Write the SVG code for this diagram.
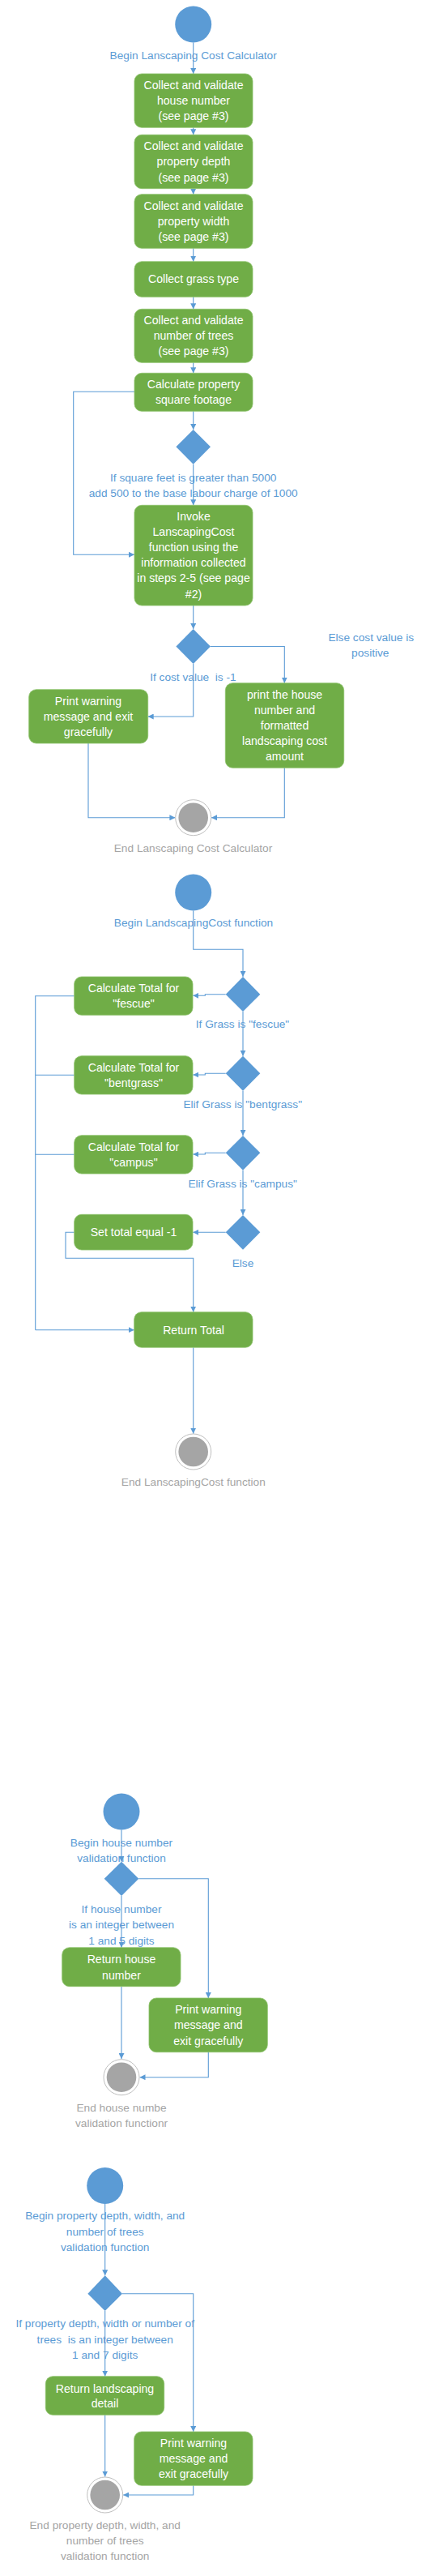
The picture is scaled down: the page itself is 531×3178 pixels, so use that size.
<svg xmlns="http://www.w3.org/2000/svg" width="531" height="3178" viewBox="0 0 531 3178">
<defs>
<style>
.bx{fill:#70ad47;stroke:#8cc26a;stroke-width:0.8}
.st{fill:#5b9bd5}
.dm{fill:#5b9bd5}
.eo{fill:#fff;stroke:#bfbfbf;stroke-width:1}
.ei{fill:#a5a5a5}
.cn{fill:none;stroke:#5b9bd5;stroke-width:1.1}
.ca{fill:none;stroke:#5b9bd5;stroke-width:1.1;marker-end:url(#ah)}
text{font-family:"Liberation Sans",Arial,sans-serif;font-size:13.7px;text-anchor:middle;dominant-baseline:central}
.t{fill:#ffffff;font-size:14.1px}
.lb{fill:#5b9bd5}
.gl{fill:#a5a5a5}
</style>
<marker id="ah" viewBox="0 0 10 10" refX="10" refY="5" markerWidth="7" markerHeight="7" markerUnits="userSpaceOnUse" orient="auto">
<path d="M0,0 L10,5 L0,10 z" fill="#5b9bd5"/>
</marker>
</defs>
<rect width="531" height="3178" fill="#ffffff"/>

<g id="connectors">
<path class="ca" d="M238.7,52.5 V91"/>
<path class="ca" d="M238.7,157.3 V166.3"/>
<path class="ca" d="M238.7,232.7 V239.7"/>
<path class="ca" d="M238.7,306.3 V322.7"/>
<path class="ca" d="M238.7,366.3 V381.3"/>
<path class="ca" d="M238.7,447.3 V460.3"/>
<path class="ca" d="M238.7,507.3 V530"/>
<path class="ca" d="M166,483.3 H90.7 V684.3 H166"/>
<path class="ca" d="M238.7,572.7 V623.3"/>
<path class="ca" d="M238.7,747 V776"/>
<path class="ca" d="M260,797.5 H351.3 V842.7"/>
<path class="ca" d="M238.7,819 V884 H182.7"/>
<path class="ca" d="M109,917 V1008.7 H216.4"/>
<path class="ca" d="M351.3,947.3 V1008.7 H261"/>

<path class="ca" d="M238.7,1123.5 V1171.3 H300 V1205"/>
<path class="ca" d="M278.7,1226.7 H253.3 V1228.3 H238.3"/>
<path class="cn" d="M91.7,1228.7 H43.7 V1640.7"/>
<path class="ca" d="M43.7,1640.7 H165.7"/>
<path class="ca" d="M300,1248 V1302.7"/>
<path class="ca" d="M278.7,1324.3 H253.3 V1326 H238.3"/>
<path class="cn" d="M91.7,1326.3 H43.7"/>
<path class="ca" d="M300,1345.7 V1401"/>
<path class="ca" d="M278.7,1422.3 H253.3 V1424 H238.3"/>
<path class="cn" d="M91.7,1424.3 H43.7"/>
<path class="ca" d="M300,1443.7 V1499"/>
<path class="ca" d="M278.7,1520.3 H238.3"/>
<path class="ca" d="M91.7,1520.3 H81 V1552.3 H238.7 V1618.7"/>
<path class="ca" d="M238.7,1662.3 V1768.7"/>

<path class="ca" d="M150,2257.5 V2296.7"/>
<path class="ca" d="M171.3,2317.7 H257.3 V2465"/>
<path class="ca" d="M150,2339 V2402.7"/>
<path class="ca" d="M150,2450.7 V2540"/>
<path class="ca" d="M257.3,2531.7 V2562.7 H172.5"/>

<path class="ca" d="M129.7,2719 V2807.3"/>
<path class="ca" d="M151,2829.7 H238.7 V3000"/>
<path class="ca" d="M129.7,2851 V2931.7"/>
<path class="ca" d="M129.7,2979.3 V3055.5"/>
<path class="ca" d="M238.7,3066.3 V3078 H152.2"/>
</g>

<!-- Flow 1 -->
<g id="start1"><circle class="st" cx="238.7" cy="30" r="22.5"/><text class="lb" x="238.7" y="68">Begin Lanscaping Cost Calculator</text></g>
<g id="collectHouse"><rect class="bx" x="166" y="91" width="146" height="66.3" rx="9"/><text class="t" x="239" y="105.3">Collect and validate</text><text class="t" x="239" y="124.3">house number</text><text class="t" x="239" y="143.3">(see page #3)</text></g>
<g id="collectDepth"><rect class="bx" x="166" y="166.3" width="146" height="66.4" rx="9"/><text class="t" x="239" y="180.3">Collect and validate</text><text class="t" x="239" y="199.3">property depth</text><text class="t" x="239" y="218.8">(see page #3)</text></g>
<g id="collectWidth"><rect class="bx" x="166" y="239.7" width="146" height="66.6" rx="9"/><text class="t" x="239" y="254">Collect and validate</text><text class="t" x="239" y="273">property width</text><text class="t" x="239" y="292.3">(see page #3)</text></g>
<g id="collectGrass"><rect class="bx" x="166" y="322.7" width="146" height="43.6" rx="9"/><text class="t" x="239" y="344.3">Collect grass type</text></g>
<g id="collectTrees"><rect class="bx" x="166" y="381.3" width="146" height="66" rx="9"/><text class="t" x="239" y="395.3">Collect and validate</text><text class="t" x="239" y="414.3">number of trees</text><text class="t" x="239" y="433.3">(see page #3)</text></g>
<g id="calcSqft"><rect class="bx" x="166" y="460.3" width="146" height="47" rx="9"/><text class="t" x="239" y="474.3">Calculate property</text><text class="t" x="239" y="493.3">square footage</text></g>
<g id="decSqft"><polygon class="dm" points="238.7,530 260,551.3 238.7,572.7 217.4,551.3"/><text class="lb" x="238.7" y="589">If square feet is greater than 5000</text><text class="lb" x="238.7" y="608">add 500 to the base labour charge of 1000</text></g>
<g id="invoke"><rect class="bx" x="166" y="623.3" width="146" height="123.7" rx="9"/><text class="t" x="239" y="637">Invoke</text><text class="t" x="239" y="656">LanscapingCost</text><text class="t" x="239" y="675">function using the</text><text class="t" x="239" y="694">information collected</text><text class="t" x="239" y="713">in steps 2-5 (see page</text><text class="t" x="239" y="732.5">#2)</text></g>
<g id="decCost"><polygon class="dm" points="238.7,776 260,797.5 238.7,819 217.4,797.5"/><text class="lb" x="238.4" y="835" xml:space="preserve">If cost value  is -1</text><text class="lb" x="458.3" y="786.7">Else cost value is</text><text class="lb" x="457.3" y="805.7">positive</text></g>
<g id="warn1"><rect class="bx" x="35.7" y="850.7" width="147" height="66.3" rx="9"/><text class="t" x="109" y="865.3">Print warning</text><text class="t" x="109" y="884.3">message and exit</text><text class="t" x="109" y="903.3">gracefully</text></g>
<g id="printCost"><rect class="bx" x="278.3" y="842.7" width="146.4" height="104.6" rx="9"/><text class="t" x="351.5" y="857.3">print the house</text><text class="t" x="351.5" y="876.3">number and</text><text class="t" x="351.5" y="895.3">formatted</text><text class="t" x="351.5" y="914.3">landscaping cost</text><text class="t" x="351.5" y="933.3">amount</text></g>
<g id="end1"><circle class="eo" cx="238.7" cy="1008.7" r="22"/><circle class="ei" cx="238.7" cy="1008.7" r="18.3"/><text class="gl" x="238.5" y="1046">End Lanscaping Cost Calculator</text></g>

<!-- Flow 2 -->
<g id="start2"><circle class="st" cx="238.7" cy="1101" r="22.5"/><text class="lb" x="239" y="1138.3">Begin LandscapingCost function</text></g>
<g id="decFescue"><polygon class="dm" points="300,1205 321.3,1226.7 300,1248 278.7,1226.7"/><text class="lb" x="299.5" y="1263.7">If Grass is "fescue"</text></g>
<g id="calcFescue"><rect class="bx" x="91.7" y="1205" width="146.3" height="47.3" rx="9"/><text class="t" x="165" y="1219">Calculate Total for</text><text class="t" x="165" y="1238">"fescue"</text></g>
<g id="decBent"><polygon class="dm" points="300,1302.7 321.3,1324.3 300,1345.7 278.7,1324.3"/><text class="lb" x="299.7" y="1362">Elif Grass is "bentgrass"</text></g>
<g id="calcBent"><rect class="bx" x="91.7" y="1302.7" width="146.3" height="47.3" rx="9"/><text class="t" x="165" y="1316.7">Calculate Total for</text><text class="t" x="165" y="1335.7">"bentgrass"</text></g>
<g id="decCampus"><polygon class="dm" points="300,1401 321.3,1422.3 300,1443.7 278.7,1422.3"/><text class="lb" x="299.7" y="1460">Elif Grass is "campus"</text></g>
<g id="calcCampus"><rect class="bx" x="91.7" y="1400.7" width="146.3" height="47.3" rx="9"/><text class="t" x="165" y="1415.3">Calculate Total for</text><text class="t" x="165" y="1434">"campus"</text></g>
<g id="decElse"><polygon class="dm" points="300,1499 321.3,1520.3 300,1541.7 278.7,1520.3"/><text class="lb" x="300" y="1558.3">Else</text></g>
<g id="setNeg"><rect class="bx" x="91.7" y="1498.3" width="146.3" height="43.7" rx="9"/><text class="t" x="165" y="1520">Set total equal -1</text></g>
<g id="returnTotal"><rect class="bx" x="165.7" y="1618.7" width="146.3" height="43.6" rx="9"/><text class="t" x="239" y="1641">Return Total</text></g>
<g id="end2"><circle class="eo" cx="238.7" cy="1791" r="22"/><circle class="ei" cx="238.7" cy="1791" r="18.3"/><text class="gl" x="238.8" y="1828.3">End LanscapingCost function</text></g>

<!-- Flow 3 -->
<g id="start3"><circle class="st" cx="150" cy="2235" r="22.5"/><text class="lb" x="150" y="2273.3">Begin house number</text><text class="lb" x="150" y="2292.3">validation function</text></g>
<g id="decHouse"><polygon class="dm" points="150,2296.7 171.3,2317.7 150,2339 128.7,2317.7"/><text class="lb" x="150" y="2355.3">If house number</text><text class="lb" x="150" y="2374.3">is an integer between</text><text class="lb" x="150" y="2394">1 and 5 digits</text></g>
<g id="returnHouse"><rect class="bx" x="76.7" y="2402.7" width="146.3" height="48" rx="9"/><text class="t" x="150" y="2417.3">Return house</text><text class="t" x="150" y="2437">number</text></g>
<g id="warn2"><rect class="bx" x="184" y="2465" width="146.3" height="66.7" rx="9"/><text class="t" x="257.3" y="2479.3">Print warning</text><text class="t" x="257.3" y="2498.3">message and</text><text class="t" x="257.3" y="2518">exit gracefully</text></g>
<g id="end3"><circle class="eo" cx="150" cy="2562.7" r="22"/><circle class="ei" cx="150" cy="2562.7" r="18.3"/><text class="gl" x="150" y="2600.3">End house numbe</text><text class="gl" x="150" y="2619.3">validation functionr</text></g>

<!-- Flow 4 -->
<g id="start4"><circle class="st" cx="129.7" cy="2696.5" r="22.5"/><text class="lb" x="129.7" y="2733.3">Begin property depth, width, and</text><text class="lb" x="129.7" y="2753.3">number of trees</text><text class="lb" x="129.7" y="2772.3">validation function</text></g>
<g id="decProp"><polygon class="dm" points="129.7,2807.3 151,2829.7 129.7,2851 108.4,2829.7"/><text class="lb" x="129.7" y="2866.7">If property depth, width or number of</text><text class="lb" x="129.7" y="2886" xml:space="preserve">trees  is an integer between</text><text class="lb" x="129.7" y="2905">1 and 7 digits</text></g>
<g id="returnDetail"><rect class="bx" x="56.3" y="2931.7" width="146.4" height="47.6" rx="9"/><text class="t" x="129.5" y="2946.7">Return landscaping</text><text class="t" x="129.5" y="2965">detail</text></g>
<g id="warn3"><rect class="bx" x="165.7" y="3000" width="146.3" height="66.3" rx="9"/><text class="t" x="239" y="3014.3">Print warning</text><text class="t" x="239" y="3033.3">message and</text><text class="t" x="239" y="3052.3">exit gracefully</text></g>
<g id="end4"><circle class="eo" cx="129.7" cy="3078" r="22"/><circle class="ei" cx="129.7" cy="3078" r="18.3"/><text class="gl" x="129.7" y="3115">End property depth, width, and</text><text class="gl" x="129.7" y="3134.3">number of trees</text><text class="gl" x="129.7" y="3153.7">validation function</text></g>
</svg>
